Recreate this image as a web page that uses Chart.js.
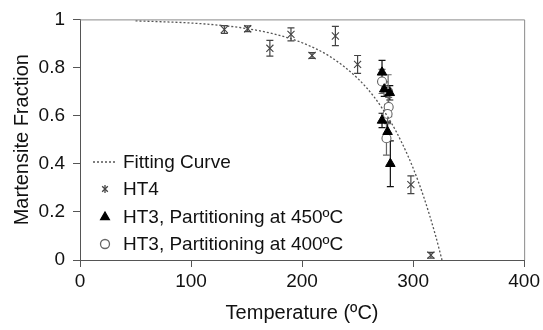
<!DOCTYPE html>
<html>
<head>
<meta charset="utf-8">
<script src="https://cdn.jsdelivr.net/npm/chart.js@4.4.0/dist/chart.umd.min.js"></script>
<style>
  html, body { margin: 0; padding: 0; background: #fff; }
</style>
</head>
<body>
<canvas id="chart" width="543" height="330"></canvas>
<script>
// --- DATA ---
const xTicks = [0, 100, 200, 300, 400];
const yTicks = [0, 0.2, 0.4, 0.6, 0.8, 1];

// fitting curve, sampled by eye
const fitTemp = [50, 75, 100, 125, 150, 175, 200, 225, 250, 265, 280, 290, 300, 310, 320, 326];
const fitFrac = [0.994, 0.990, 0.985, 0.976, 0.962, 0.939, 0.903, 0.846, 0.755, 0.677, 0.573, 0.486, 0.382, 0.256, 0.105, 0];

// HT4
const ht4Temp = [130, 151, 171, 190, 209, 230, 250, 298, 316];
const ht4Frac = [0.958, 0.961, 0.88, 0.938, 0.85, 0.931, 0.813, 0.313, 0.02];
const ht4Err  = [0.016, 0.012, 0.033, 0.027, 0.012, 0.04, 0.037, 0.037, 0.012];

// HT3, partitioning at 450C
const p450Temp = [272, 274, 279, 272, 277, 279.5];
const p450Frac = [0.78, 0.71, 0.695, 0.58, 0.533, 0.40];
const p450Err  = [0.05, 0.03, 0.03, 0.03, 0.04, 0.095];

// HT3, partitioning at 400C
const p400Temp = [272, 277.5, 278, 277, 276];
const p400Frac = [0.742, 0.70, 0.636, 0.607, 0.506];
const p400Err  = [0.05, 0.07, 0.04, 0.04, 0.07];

const legendLabels = ['Fitting Curve', 'HT4', 'HT3, Partitioning at 450\u00BAC', 'HT3, Partitioning at 400\u00BAC'];

const FONT = "'Liberation Sans', Arial, sans-serif";
const TEXT = '#111';

const toPts = (xs, ys) => xs.map((x, i) => ({ x: x, y: ys[i] }));

// --- PLUGINS ---
// vertical error bars with caps, drawn from each dataset's err array
const errorBars = {
    id: 'errorBars',
    beforeDatasetsDraw(chart) {
        const { ctx, scales: { x, y } } = chart;
        chart.data.datasets.forEach(ds => {
            if (!ds.err) return;
            ctx.save();
            ctx.strokeStyle = ds.errColor;
            ctx.lineWidth = 1.2;
            ds.data.forEach((p, i) => {
                const px = x.getPixelForValue(p.x);
                const top = y.getPixelForValue(p.y + ds.err[i]);
                const bot = y.getPixelForValue(p.y - ds.err[i]);
                ctx.beginPath();
                ctx.moveTo(px, top); ctx.lineTo(px, bot);
                ctx.moveTo(px - 3.5, top); ctx.lineTo(px + 3.5, top);
                ctx.moveTo(px - 3.5, bot); ctx.lineTo(px + 3.5, bot);
                ctx.stroke();
            });
            ctx.restore();
        });
    }
};

// frame on top/right plus the legend inside the plot
const frameAndLegend = {
    id: 'frameAndLegend',
    afterDraw(chart) {
        const { ctx, chartArea: a } = chart;
        ctx.save();
        ctx.strokeStyle = '#8a8a8a';
        ctx.lineWidth = 1;
        ctx.beginPath();
        ctx.moveTo(a.left, a.top + 0.5); ctx.lineTo(a.right + 0.5, a.top + 0.5);
        ctx.lineTo(a.right + 0.5, a.bottom);
        ctx.stroke();

        const sx = a.left + 25, tx = a.left + 43;
        const rows = [a.bottom - 98, a.bottom - 71, a.bottom - 43, a.bottom - 16];
        ctx.font = '19px ' + FONT;
        ctx.fillStyle = TEXT;
        ctx.textBaseline = 'middle';
        rows.forEach((ry, i) => ctx.fillText(legendLabels[i], tx, ry + 1));

        const ds = chart.data.datasets;
        // fitting curve
        ctx.strokeStyle = ds[0].borderColor;
        ctx.lineWidth = ds[0].borderWidth;
        ctx.setLineDash(ds[0].borderDash);
        ctx.beginPath();
        ctx.moveTo(sx - 12, rows[0]); ctx.lineTo(sx + 12, rows[0]);
        ctx.stroke();
        ctx.setLineDash([]);
        // HT4 asterisk
        ctx.strokeStyle = ds[1].borderColor;
        Chart.helpers.drawPoint(ctx, { pointStyle: 'crossRot', radius: 4, rotation: 0, borderWidth: 1 }, sx, rows[1]);
        ctx.beginPath(); ctx.moveTo(sx, rows[1] - 4); ctx.lineTo(sx, rows[1] + 4); ctx.stroke();
        // triangle
        ctx.fillStyle = ds[2].backgroundColor;
        ctx.strokeStyle = ds[2].borderColor;
        Chart.helpers.drawPoint(ctx, { pointStyle: 'triangle', radius: 5, rotation: 0, borderWidth: 1 }, sx, rows[2]);
        // circle
        ctx.fillStyle = ds[3].backgroundColor;
        ctx.strokeStyle = ds[3].borderColor;
        Chart.helpers.drawPoint(ctx, { pointStyle: 'circle', radius: 4.5, rotation: 0, borderWidth: 1 }, sx, rows[3]);
        ctx.restore();
    }
};

// --- CHART ---
new Chart(document.getElementById('chart'), {
    type: 'scatter',
    data: {
        datasets: [
            {
                label: legendLabels[0], data: toPts(fitTemp, fitFrac), showLine: true,
                borderColor: '#555', borderWidth: 1.3, borderDash: [2, 2],
                pointRadius: 0, cubicInterpolationMode: 'monotone', fill: false
            },
            {
                label: legendLabels[1], data: toPts(ht4Temp, ht4Frac), err: ht4Err, errColor: '#444',
                pointStyle: 'crossRot', pointRadius: 5, borderColor: '#444', borderWidth: 1.1
            },
            {
                label: legendLabels[2], data: toPts(p450Temp, p450Frac), err: p450Err, errColor: '#111',
                pointStyle: 'triangle', pointRadius: 5.5, backgroundColor: '#000', borderColor: '#000', borderWidth: 1
            },
            {
                label: legendLabels[3], data: toPts(p400Temp, p400Frac), err: p400Err, errColor: '#666',
                pointStyle: 'circle', pointRadius: 4.5, backgroundColor: '#fff', borderColor: '#666', borderWidth: 1.1
            }
        ]
    },
    options: {
        responsive: false,
        devicePixelRatio: 1,
        animation: false,
        layout: { padding: { top: 13, right: 17, left: 0, bottom: 0 } },
        plugins: { legend: { display: false }, tooltip: { enabled: false } },
        scales: {
            x: {
                type: 'linear', min: 0, max: 400,
                afterFit: s => { s.height = 70; },
                afterBuildTicks: s => { s.ticks = xTicks.map(v => ({ value: v })); },
                border: { display: true, color: '#555', width: 1 },
                grid: { display: true, drawOnChartArea: false, drawTicks: true, tickLength: 7, color: '#555' },
                ticks: { color: TEXT, font: { family: FONT, size: 19 }, padding: 3, maxRotation: 0, callback: v => String(v) },
                title: { display: true, text: 'Temperature (\u00BAC)', color: TEXT, font: { family: FONT, size: 20 }, padding: { top: 0, bottom: 5 } }
            },
            y: {
                type: 'linear', min: 0, max: 1,
                afterFit: s => { s.width = 80; },
                afterBuildTicks: s => { s.ticks = yTicks.map(v => ({ value: v })); },
                border: { display: true, color: '#555', width: 1 },
                grid: { display: true, drawOnChartArea: false, drawTicks: true, tickLength: 7, color: '#555' },
                ticks: { color: TEXT, font: { family: FONT, size: 19 }, padding: 8, callback: v => String(v) },
                title: { display: true, text: 'Martensite Fraction', color: TEXT, font: { family: FONT, size: 20 }, padding: { top: 10, bottom: 0 } }
            }
        }
    },
    plugins: [errorBars, frameAndLegend]
});
</script>
</body>
</html>
